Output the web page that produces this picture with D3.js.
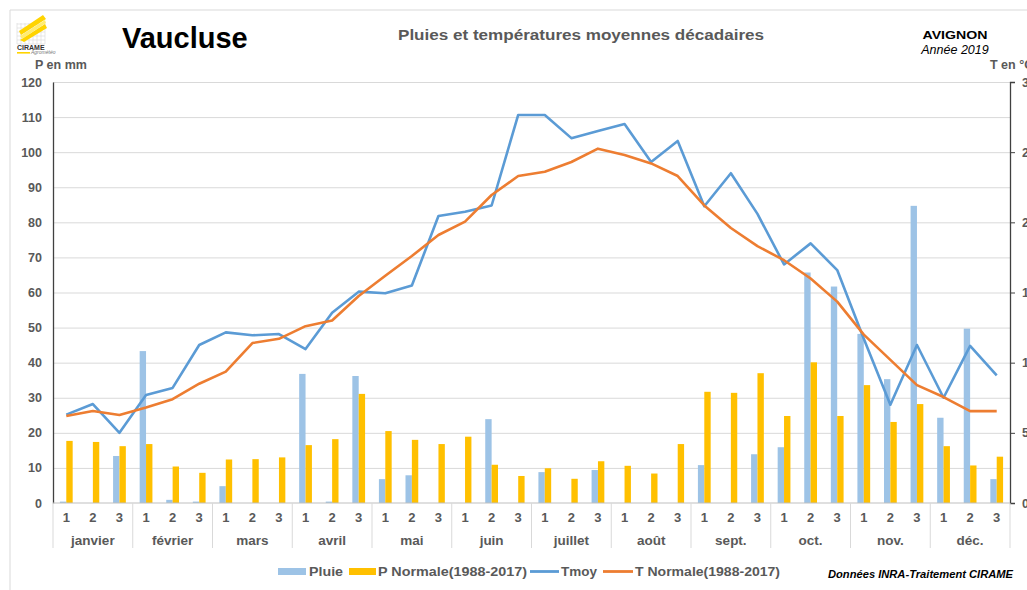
<!DOCTYPE html>
<html>
<head>
<meta charset="utf-8">
<script src="https://cdn.jsdelivr.net/npm/d3@7"></script>
<style>
  body { margin: 0; background: #fff; }
  svg { display: block; font-family: "Liberation Sans", Arial, sans-serif; }
</style>
</head>
<body>
<div class="viz"></div>
<script>
// decades of 2019, Avignon
const months = ['janvier', 'février', 'mars', 'avril', 'mai', 'juin', 'juillet', 'août', 'sept.', 'oct.', 'nov.', 'déc.']
const decades = ['1', '2', '3']

// rain (mm)
const pluie = [0.4, 0, 13.4, 43.3, 0.9, 0.4, 4.8, 0, 0, 36.8, 0.4, 36.2,
  6.8, 7.9, 0, 0, 23.9, 0, 8.8, 0, 9.4, 0, 0, 0,
  10.8, 0, 13.9, 15.9, 65.7, 61.7, 48.2, 35.3, 84.7, 24.3, 49.7, 6.8]
const pNormale = [17.7, 17.4, 16.2, 16.8, 10.4, 8.6, 12.4, 12.5, 13.0, 16.5, 18.2, 31.1,
  20.5, 18.0, 16.8, 18.9, 10.9, 7.7, 9.9, 6.9, 11.9, 10.6, 8.4, 16.8,
  31.7, 31.4, 37.0, 24.8, 40.1, 24.8, 33.6, 23.1, 28.2, 16.2, 10.7, 13.2]

// temperatures (°C)
const tmoy = [6.3, 7.05, 5.0, 7.7, 8.2, 11.26, 12.16, 11.95, 12.04, 10.97, 13.56, 15.06,
  14.95, 15.5, 20.45, 20.76, 21.2, 27.65, 27.65, 26.0, 26.5, 27.0, 24.3, 25.8,
  21.15, 23.5, 20.6, 17.0, 18.5, 16.6, 11.7, 7.0, 11.26, 7.5, 11.2, 9.1]
const tNormale = [6.2, 6.55, 6.27, 6.8, 7.4, 8.5, 9.36, 11.4, 11.7, 12.6, 13.0, 14.75,
  16.2, 17.6, 19.1, 20.05, 21.95, 23.3, 23.6, 24.3, 25.25, 24.8, 24.2, 23.3,
  21.2, 19.6, 18.3, 17.3, 16.0, 14.35, 12.0, 10.2, 8.4, 7.55, 6.55, 6.55]

const pTicks = d3.range(0, 121, 10)
const tTicks = [0, 5, 10, 15, 20, 25, 30]

const width = 1027
const height = 590
const plotLeft = 53
const plotRight = 1010
const plotTop = 82
const plotBottom = 503

const cPluie = '#9dc3e6'
const cNorm = '#ffc000'
const cTmoy = '#5b9bd5'
const cTnorm = '#ed7d31'
const grey = '#595959'

const svg = d3.select('.viz')
  .append('svg')
  .attr('width', width)
  .attr('height', height)

// frame
svg.append('path')
  .attr('d', `M10,${height} V10 H${width}`)
  .attr('fill', 'none')
  .attr('stroke', '#d9d9d9')

const idx = d3.range(36)
const x = d3.scaleBand().domain(idx).range([plotLeft, plotRight])
const y = d3.scaleLinear().domain([0, 120]).range([plotBottom, plotTop])
const yT = d3.scaleLinear().domain([0, 30]).range([plotBottom, plotTop])
const bw = x.bandwidth() * 0.24

// gridlines
svg.append('g')
  .attr('transform', `translate(${plotLeft},0)`)
  .call(d3.axisLeft(y).tickValues(pTicks.slice(1)).tickSize(-(plotRight - plotLeft)).tickFormat(''))
  .call(g => g.select('.domain').remove())
  .selectAll('line').attr('stroke', '#d9d9d9')

// bars
svg.append('g').selectAll('rect')
  .data(pluie)
  .enter()
  .append('rect')
  .attr('x', (d, i) => x(i) + x.bandwidth() / 2 - bw)
  .attr('width', bw)
  .attr('y', d => y(d))
  .attr('height', d => plotBottom - y(d))
  .attr('fill', cPluie)

svg.append('g').selectAll('rect')
  .data(pNormale)
  .enter()
  .append('rect')
  .attr('x', (d, i) => x(i) + x.bandwidth() / 2)
  .attr('width', bw)
  .attr('y', d => y(d))
  .attr('height', d => plotBottom - y(d))
  .attr('fill', cNorm)

// lines
const line = d3.line()
  .x((d, i) => x(i) + x.bandwidth() / 2)
  .y(d => yT(d))

svg.append('path')
  .datum(tmoy)
  .attr('d', line)
  .attr('fill', 'none')
  .attr('stroke', cTmoy)
  .attr('stroke-width', 2.6)
  .attr('stroke-linejoin', 'round')

svg.append('path')
  .datum(tNormale)
  .attr('d', line)
  .attr('fill', 'none')
  .attr('stroke', cTnorm)
  .attr('stroke-width', 2.6)
  .attr('stroke-linejoin', 'round')

// left axis
const yAxis = svg.append('g')
  .attr('transform', `translate(${plotLeft},0)`)
  .call(d3.axisLeft(y).tickValues(pTicks).tickSize(0).tickPadding(11))
yAxis.select('.domain').attr('stroke', '#404040').attr('stroke-width', 1.3)
yAxis.selectAll('text')
  .attr('fill', grey)
  .attr('font-size', 12.5)
  .attr('font-weight', 'bold')
  .attr('font-family', '"Liberation Sans", Arial, sans-serif')

// right axis (labels run off the page edge as in the source image)
const tAxis = svg.append('g')
  .attr('transform', `translate(${plotRight},0)`)
  .call(d3.axisRight(yT).tickValues(tTicks).tickSize(5).tickPadding(7))
tAxis.select('.domain').attr('stroke', '#404040').attr('stroke-width', 1.3)
tAxis.selectAll('line').attr('stroke', '#404040')
tAxis.selectAll('text')
  .attr('fill', grey)
  .attr('font-size', 12.5)
  .attr('font-weight', 'bold')
  .attr('font-family', '"Liberation Sans", Arial, sans-serif')

// bottom axis: decades and months
svg.append('line')
  .attr('x1', plotLeft).attr('x2', plotRight)
  .attr('y1', plotBottom).attr('y2', plotBottom)
  .attr('stroke', '#bfbfbf')

svg.append('g').selectAll('text')
  .data(idx)
  .enter()
  .append('text')
  .text(i => decades[i % 3])
  .attr('x', i => x(i) + x.bandwidth() / 2)
  .attr('y', 522)
  .attr('text-anchor', 'middle')
  .attr('font-size', 13)
  .attr('font-weight', 'bold')
  .attr('fill', grey)

svg.append('g').selectAll('line')
  .data(d3.range(13))
  .enter()
  .append('line')
  .attr('x1', m => m < 12 ? x(m * 3) : plotRight)
  .attr('x2', m => m < 12 ? x(m * 3) : plotRight)
  .attr('y1', plotBottom)
  .attr('y2', 548)
  .attr('stroke', '#d9d9d9')

svg.append('g').selectAll('text')
  .data(months)
  .enter()
  .append('text')
  .text(d => d)
  .attr('x', (d, m) => x(m * 3) + x.bandwidth() * 1.5)
  .attr('y', 545)
  .attr('text-anchor', 'middle')
  .attr('font-size', 13.5)
  .attr('font-weight', 'bold')
  .attr('fill', grey)

// titles
svg.append('text')
  .text('Vaucluse')
  .attr('x', 122).attr('y', 48)
  .attr('font-size', 29)
  .attr('font-weight', 'bold')
  .attr('fill', '#000')

svg.append('text')
  .text('Pluies et températures moyennes décadaires')
  .attr('x', 398).attr('y', 40)
  .attr('font-size', 14)
  .attr('font-weight', 'bold')
  .attr('fill', grey)
  .attr('textLength', 366)
  .attr('lengthAdjust', 'spacingAndGlyphs')

svg.append('text')
  .text('AVIGNON')
  .attr('x', 955).attr('y', 39)
  .attr('text-anchor', 'middle')
  .attr('font-size', 11)
  .attr('font-weight', 'bold')
  .attr('fill', '#000')
  .attr('textLength', 65)
  .attr('lengthAdjust', 'spacingAndGlyphs')

svg.append('text')
  .text('Année 2019')
  .attr('x', 955).attr('y', 54)
  .attr('text-anchor', 'middle')
  .attr('font-size', 12.5)
  .attr('font-style', 'italic')
  .attr('fill', '#000')

svg.append('text')
  .text('P en mm')
  .attr('x', 35).attr('y', 69)
  .attr('font-size', 12.5)
  .attr('font-weight', 'bold')
  .attr('fill', grey)

svg.append('text')
  .text('T en °C')
  .attr('x', 990).attr('y', 69)
  .attr('font-size', 12.5)
  .attr('font-weight', 'bold')
  .attr('fill', grey)

// legend
const legend = [
  { label: 'Pluie', color: cPluie, kind: 'rect', x: 278, w: 28, tx: 309, tw: 34 },
  { label: 'P Normale(1988-2017)', color: cNorm, kind: 'rect', x: 349, w: 27, tx: 378, tw: 149 },
  { label: 'Tmoy', color: cTmoy, kind: 'line', x: 530, w: 29, tx: 561, tw: 36 },
  { label: 'T Normale(1988-2017)', color: cTnorm, kind: 'line', x: 603, w: 30, tx: 635, tw: 145 }
]
const lg = svg.append('g')
legend.forEach(d => {
  if (d.kind === 'rect') {
    lg.append('rect')
      .attr('x', d.x).attr('y', 568)
      .attr('width', d.w).attr('height', 7)
      .attr('fill', d.color)
  } else {
    lg.append('line')
      .attr('x1', d.x).attr('x2', d.x + d.w)
      .attr('y1', 571.5).attr('y2', 571.5)
      .attr('stroke', d.color)
      .attr('stroke-width', 2.8)
  }
  lg.append('text')
    .text(d.label)
    .attr('x', d.tx).attr('y', 576)
    .attr('font-size', 12)
    .attr('font-weight', 'bold')
    .attr('fill', grey)
    .attr('textLength', d.tw)
    .attr('lengthAdjust', 'spacingAndGlyphs')
})

svg.append('text')
  .text('Données INRA-Traitement CIRAME')
  .attr('x', 828).attr('y', 578)
  .attr('font-size', 10)
  .attr('font-weight', 'bold')
  .attr('font-style', 'italic')
  .attr('fill', '#000')
  .attr('textLength', 185)
  .attr('lengthAdjust', 'spacingAndGlyphs')

// CIRAME logo, roughly
const logo = svg.append('g').attr('transform', 'translate(17,15)')
logo.append('g').selectAll('line')
  .data(d3.range(8))
  .enter()
  .append('line')
  .attr('x1', d => d * 4).attr('x2', d => d * 4)
  .attr('y1', 8).attr('y2', 29)
  .attr('stroke', '#dcdcdc')
  .attr('stroke-width', 0.7)
logo.append('g').selectAll('line')
  .data(d3.range(6))
  .enter()
  .append('line')
  .attr('x1', 0).attr('x2', 28)
  .attr('y1', d => 9 + d * 4).attr('y2', d => 9 + d * 4)
  .attr('stroke', '#dcdcdc')
  .attr('stroke-width', 0.7)
logo.append('path')
  .attr('d', 'M2,16 L26,0 L29,4 L4,20 Z M3,25 L28,9 L30,13 L7,27 Z')
  .attr('fill', '#ffd400')
logo.append('path')
  .attr('d', 'M3,21 L28,5 L29,8 L5,24 Z')
  .attr('fill', '#ffec70')
logo.append('text')
  .text('CIRAME')
  .attr('x', 0).attr('y', 35)
  .attr('font-size', 7)
  .attr('font-weight', 'bold')
  .attr('fill', '#333')
logo.append('rect')
  .attr('x', 0).attr('y', 37)
  .attr('width', 13).attr('height', 1.6)
  .attr('fill', '#ffd400')
logo.append('text')
  .text('Agrométéo')
  .attr('x', 14).attr('y', 39)
  .attr('font-size', 5)
  .attr('font-style', 'italic')
  .attr('fill', '#777')
</script>
</body>
</html>
